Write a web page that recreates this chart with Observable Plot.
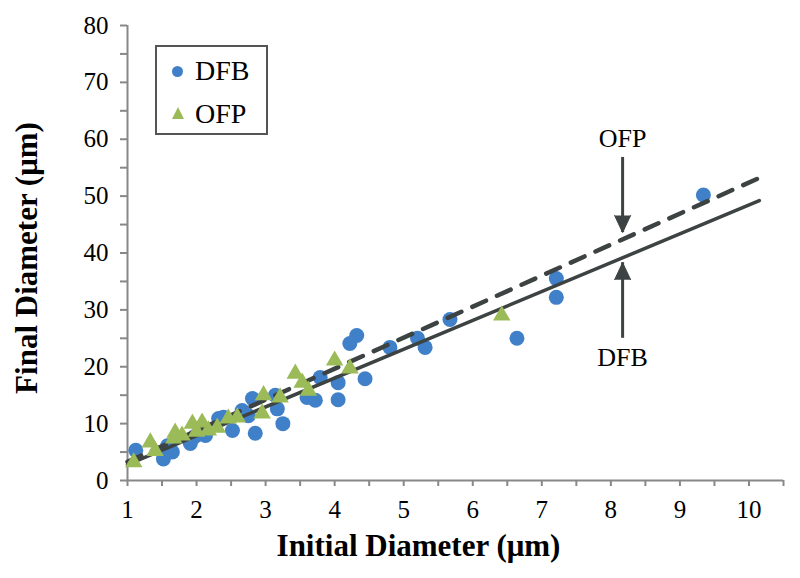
<!DOCTYPE html>
<html><head><meta charset="utf-8">
<script src="https://cdn.jsdelivr.net/npm/d3@7"></script>
<script src="https://cdn.jsdelivr.net/npm/@observablehq/plot@0.6"></script>
<style>
body{margin:0;background:#fff;}
#wrap{position:relative;width:800px;height:578px;font-family:"Liberation Serif","Times New Roman",serif;}
#legend{position:absolute;left:155px;top:45px;width:113px;height:90px;border:2px solid #555;background:#fff;box-sizing:border-box;}
#legend .sym{position:absolute;}
#legend .lab{position:absolute;left:38px;font-size:28px;line-height:28px;color:#000;font-family:"Liberation Serif","Times New Roman",serif;}
</style>
</head><body>
<div id="wrap"></div>
<script>
// DFB series (blue circles)
const dfbX = [1.12,1.52,1.58,1.65,1.91,1.98,2.05,2.13,2.32,2.39,2.52,2.66,2.75,2.81,2.85,3.14,3.17,3.25,3.60,3.72,3.79,4.05,4.05,4.22,4.32,4.44,4.80,5.20,5.31,5.67,6.64,7.21,7.21,9.34];
const dfbY = [5.3,3.8,6.1,5.0,6.5,7.8,8.2,7.9,10.9,11.1,8.8,12.3,11.4,14.4,8.3,15.0,12.6,10.0,14.6,14.1,18.1,17.2,14.2,24.1,25.5,17.9,23.4,25.0,23.4,28.3,25.0,35.5,32.2,50.2];
// OFP series (green triangles)
const ofpX = [1.09,1.33,1.40,1.67,1.69,1.79,1.94,2.00,2.08,2.17,2.30,2.46,2.59,2.95,2.97,3.21,3.43,3.53,3.62,4.00,4.22,6.42];
const ofpY = [3.2,6.7,5.2,7.4,8.4,7.9,10.0,8.6,10.2,8.8,9.3,10.9,11.1,11.8,15.0,14.6,18.8,17.2,15.8,21.1,19.7,29.0];
// Trend lines (endpoints of fitted lines)
const fitX = [1.0, 10.15];
const dfbFitY = [2.8, 49.2];
const ofpFitY = [3.3, 53.2];
// Annotations
const annotLabels = ["OFP", "DFB"];
const annotX = [8.17, 8.17];
const arrowFromY = [56.8, 25.0];
const arrowToY = [43.6, 38.3];
const annotLabelY = [60.1, 21.6];
// Axes
const xTickValues = [1,1.5,2,2.5,3,3.5,4,4.5,5,5.5,6,6.5,7,7.5,8,8.5,9,9.5,10,10.5];
const xTickLabels = [1,2,3,4,5,6,7,8,9,10];
const yTickValues = [0,5,10,15,20,25,30,35,40,45,50,55,60,65,70,75,80];
const yTickLabels = [0,10,20,30,40,50,60,70,80];
const xTitle = "Initial Diameter (μm)";
const yTitle = "Final Diameter (μm)";
const seriesNames = ["DFB", "OFP"];
const seriesColors = ["#4080c8", "#9bbb59"];
const lineColor = "#3d4242";
const serif = '"Liberation Serif", "Times New Roman", serif';

const dfb = dfbX.map((x, i) => ({x, y: dfbY[i]}));
const ofp = ofpX.map((x, i) => ({x, y: ofpY[i]}));
const fits = fitX.map((x, i) => ({x, dfb: dfbFitY[i], ofp: ofpFitY[i]}));
const annots = annotLabels.map((label, i) => ({label, x: annotX[i], from: arrowFromY[i], to: arrowToY[i], ly: annotLabelY[i], rot: arrowFromY[i] > arrowToY[i] ? 180 : 0}));

const plot = Plot.plot({
  width: 800, height: 578,
  marginLeft: 127, marginRight: 17, marginTop: 25, marginBottom: 98,
  x: {domain: [1, 10.5]},
  y: {domain: [0, 80]},
  style: {fontFamily: serif, fontSize: "25px", color: "#000", background: "#fff", overflow: "visible"},
  marks: [
    Plot.axisY(yTickValues, {tickSize: 7, tickPadding: 12, tickFormat: d => yTickLabels.includes(d) ? String(d) : "", stroke: "#888", strokeWidth: 2, label: null, fontSize: 25, fill: "#000"}),
    Plot.axisX(xTickValues, {tickSize: 6, tickPadding: 14, tickFormat: d => xTickLabels.includes(d) ? String(d) : "", stroke: "#888", strokeWidth: 2, label: null, fontSize: 25, fill: "#000"}),
    Plot.ruleX([1], {stroke: "#888", strokeWidth: 2}),
    Plot.ruleY([0], {stroke: "#888", strokeWidth: 2}),
    Plot.dot(dfb, {x: "x", y: "y", r: 7.5, fill: seriesColors[0], stroke: null, symbol: "circle"}),
    Plot.line(fits, {x: "x", y: "dfb", stroke: lineColor, strokeWidth: 3.5}),
    Plot.line(fits, {x: "x", y: "ofp", stroke: lineColor, strokeWidth: 4.5, strokeDasharray: "15,12"}),
    Plot.dot(ofp, {x: "x", y: "y", r: 6.5, fill: seriesColors[1], stroke: null, symbol: "triangle"}),
    Plot.ruleX(annots, {x: "x", y1: "from", y2: "to", stroke: lineColor, strokeWidth: 3}),
    Plot.vector(annots, {x: "x", y: "to", shape: "spike", r: 8, length: 17, anchor: "end", rotate: "rot", fill: lineColor, stroke: lineColor, strokeWidth: 1}),
    Plot.text(annots, {x: "x", y: "ly", text: "label", fontSize: 26, fill: "#000"}),
    Plot.text([xTitle], {frameAnchor: "bottom", textAnchor: "middle", lineAnchor: "middle", dx: -37, dy: 66, fontWeight: "bold", fontSize: 31, fill: "#000"}),
    Plot.text([yTitle], {frameAnchor: "left", textAnchor: "middle", lineAnchor: "middle", dx: -100, dy: 5, rotate: -90, fontWeight: "bold", fontSize: 31, fill: "#000"})
  ]
});
const wrap = document.getElementById("wrap");
wrap.appendChild(plot);
plot.style.position = "absolute"; plot.style.left = "0"; plot.style.top = "0";

// Legend
const legend = document.createElement("div");
legend.id = "legend";
const dot = document.createElement("div");
dot.className = "sym";
Object.assign(dot.style, {left: "15px", top: "19px", width: "11px", height: "11px", borderRadius: "50%", background: seriesColors[0]});
const tri = document.createElement("div");
tri.className = "sym";
Object.assign(tri.style, {left: "15px", top: "60px", width: "0", height: "0", borderLeft: "6.5px solid transparent", borderRight: "6.5px solid transparent", borderBottom: "12px solid " + seriesColors[1]});
const l1 = document.createElement("div"); l1.className = "lab"; l1.textContent = seriesNames[0]; l1.style.top = "10px";
const l2 = document.createElement("div"); l2.className = "lab"; l2.textContent = seriesNames[1]; l2.style.top = "53px";
legend.append(dot, tri, l1, l2);
wrap.appendChild(legend);
</script>
</body></html>
